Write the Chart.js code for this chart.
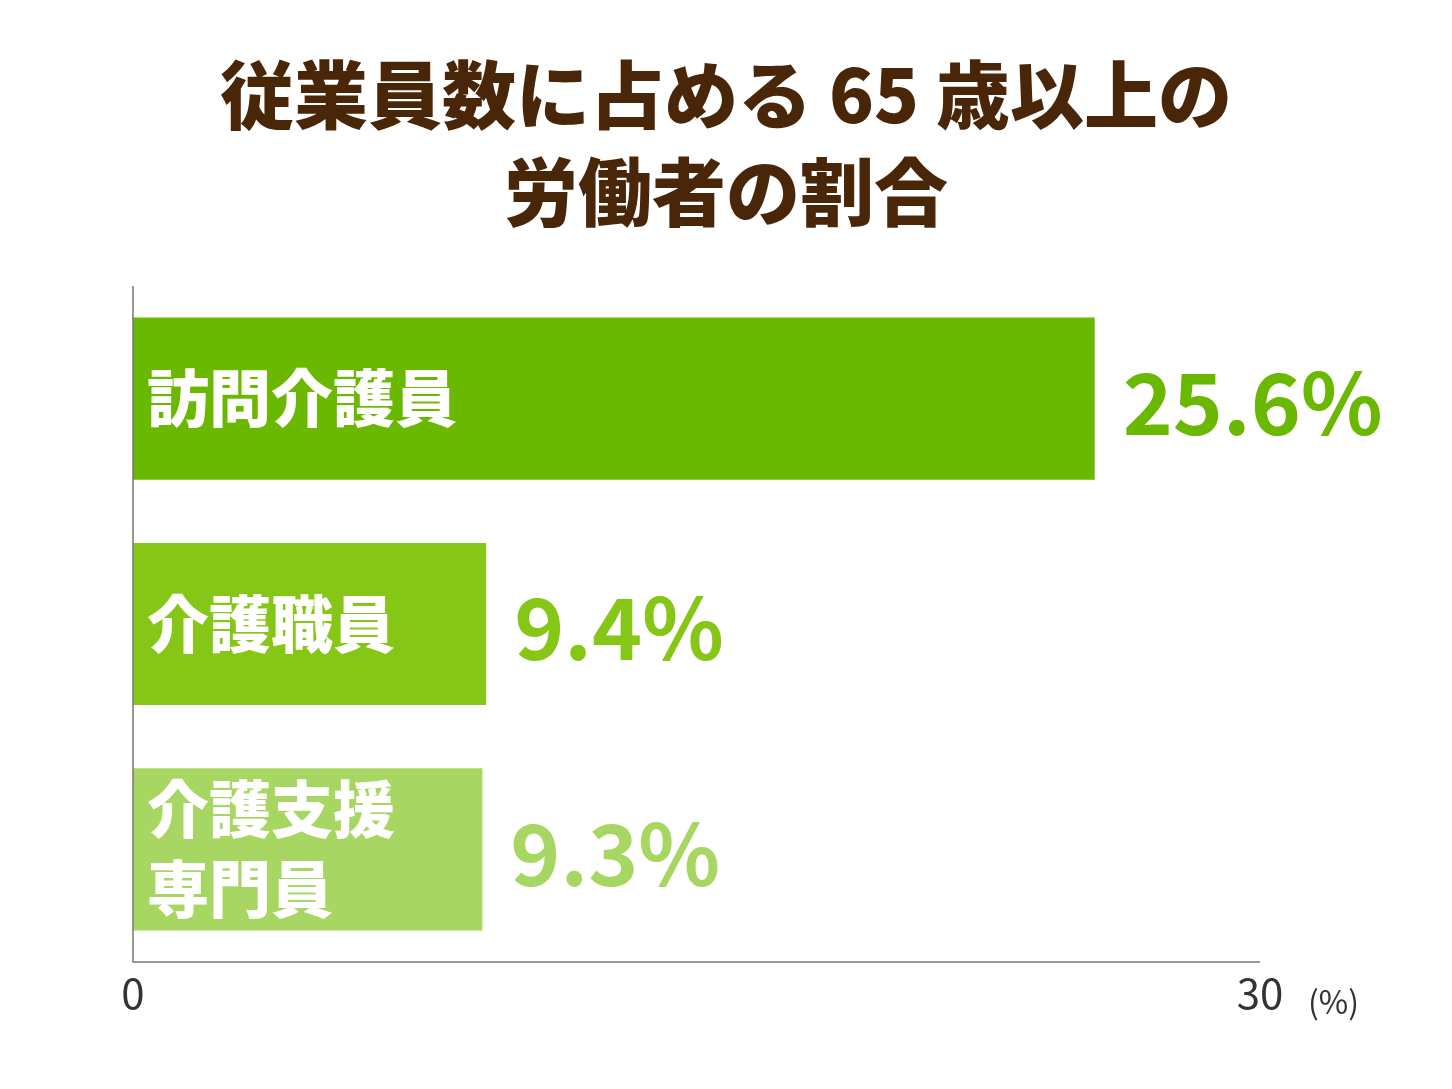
<!DOCTYPE html>
<html><head><meta charset="utf-8">
<script src="https://cdn.jsdelivr.net/npm/chart.js@4"></script>
<style>html,body{margin:0;padding:0;background:#fff}#w{width:1452px;height:1089px}</style>
</head><body><div id="w"><canvas id="c"></canvas></div>
<script>
const titleLines = ["従業員数に占める 65 歳以上の", "労働者の割合"];
const categories = [["訪問介護員"], ["介護職員"], ["介護支援", "専門員"]];
const values = [25.6, 9.4, 9.3];
const valueLabels = ["25.6%", "9.4%", "9.3%"];
const barColors = ["#6ab800", "#86c616", "#a8d662"];
const xTicks = [0, 30];
const unitLabel = "(%)";
const F = '"Noto Sans CJK JP", "Noto Sans", sans-serif';

const deco = {
  id: 'deco',
  afterDraw(chart) {
    const ctx = chart.ctx, a = chart.chartArea, x = chart.scales.x;
    ctx.save();
    ctx.fillStyle = '#4a2609';
    ctx.font = '900 74px ' + F;
    ctx.textAlign = 'center'; ctx.textBaseline = 'middle';
    ctx.fillText(titleLines[0], 726, 95);
    ctx.fillText(titleLines[1], 726, 192);
    ctx.strokeStyle = '#777'; ctx.lineWidth = 1.5;
    ctx.beginPath(); ctx.moveTo(a.left, a.top); ctx.lineTo(a.left, a.bottom); ctx.lineTo(a.right, a.bottom); ctx.stroke();
    ctx.fillStyle = '#333'; ctx.font = '42px ' + F; ctx.textBaseline = 'top';
    xTicks.forEach(t => ctx.fillText(String(t), x.getPixelForValue(t), a.bottom + 10));
    ctx.font = '32px ' + F; ctx.textAlign = 'left';
    ctx.fillText(unitLabel, x.getPixelForValue(30) + 48, a.bottom + 24);
    const meta = chart.getDatasetMeta(0);
    meta.data.forEach((bar, i) => {
      const lines = categories[i];
      ctx.fillStyle = '#fff'; ctx.font = '900 62px ' + F; ctx.textAlign = 'left'; ctx.textBaseline = 'middle';
      const lh = 80, y0 = bar.y - (lines.length - 1) * lh / 2;
      lines.forEach((l, j) => ctx.fillText(l, a.left + 14, y0 + j * lh));
      ctx.fillStyle = barColors[i]; ctx.font = 'bold 85px ' + F;
      ctx.fillText(valueLabels[i], bar.x + 28, bar.y + 4);
    });
    ctx.restore();
  }
};

new Chart(document.getElementById('c'), {
  type: 'bar',
  data: { labels: categories.map(c => c.join('')), datasets: [{ data: values, backgroundColor: barColors, barPercentage: 0.72, categoryPercentage: 1 }] },
  options: {
    indexAxis: 'y', responsive: true, maintainAspectRatio: false, animation: false,
    layout: { padding: { left: 133, right: 192, top: 286, bottom: 127 } },
    plugins: { legend: { display: false }, tooltip: { enabled: false } },
    scales: { x: { display: false, min: 0, max: 30 }, y: { display: false } }
  },
  plugins: [deco]
});
</script></body></html>
